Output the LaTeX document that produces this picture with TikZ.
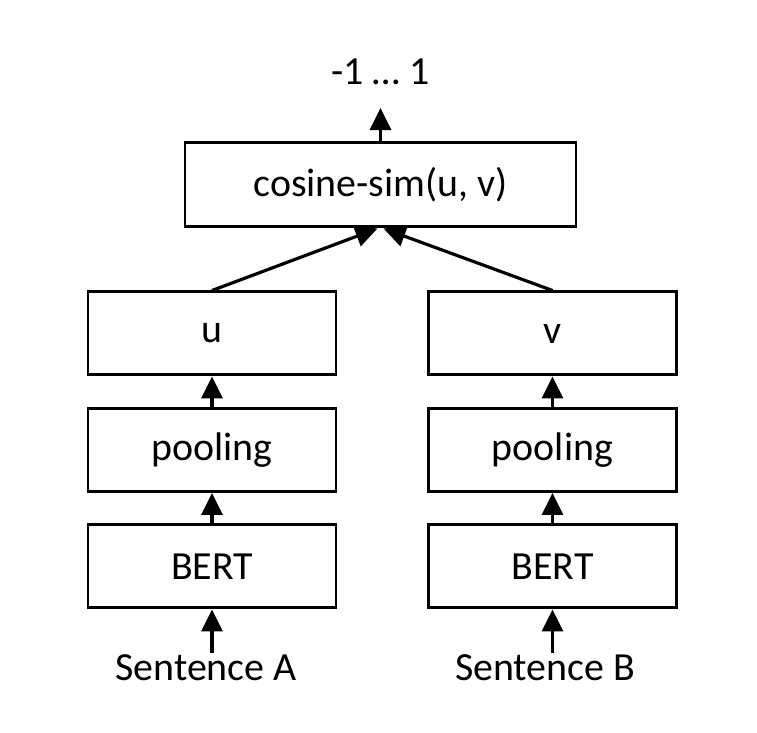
\documentclass[tikz,border=0pt]{standalone}
\usepackage{fontspec}
\setmainfont{Carlito}
\usetikzlibrary{arrows.meta,positioning}

\begin{document}
\begin{tikzpicture}[
    node distance=6.1mm and 6.1mm,
    box/.style={draw, line width=1.7pt, align=center, minimum height=16.6mm, minimum width=49.6mm, inner sep=0pt, font=\fontsize{22.7}{27}\selectfont},
    txt/.style={inner sep=1pt, font=\fontsize{22.7}{27}\selectfont},
    arrow/.style={-{Triangle[length=4.4mm, width=4.2mm]}, line width=1.8pt}
  ]
    \useasboundingbox (0,0) rectangle (15.14,14.66);
    \node[box, minimum width=78.2mm, minimum height=16.8mm] (cs) at (7.61,10.96) {cosine-sim(u, v)};
    \node[txt] (out) at (7.61,13.22) {-1 … 1};
    \node[box] (u) at (4.24,7.99) {u};
    \node[box, below=of u] (pa) {pooling};
    \node[box, below=of pa] (ba) {BERT};
    \node[box] (v) at (11.05,7.99) {v};
    \node[box, below=of v] (pb) {pooling};
    \node[box, below=of pb] (bb) {BERT};
    \node[txt] (sa) at (4.12,1.30) {Sentence A};
    \node[txt] (sb) at (10.90,1.30) {Sentence B};
    \draw[arrow] (sa.north -| ba) -- (ba);
    \draw[arrow] (ba) -- (pa);
    \draw[arrow] (pa) -- (u);
    \draw[arrow] (sb.north -| bb) -- (bb);
    \draw[arrow] (bb) -- (pb);
    \draw[arrow] (pb) -- (v);
    \draw[arrow] (u.north) -- ([xshift=-0.06cm]cs.south);
    \draw[arrow] (v.north) -- ([xshift=0.06cm]cs.south);
    \draw[arrow, shorten >=4.2mm] (cs) -- (out);
  \end{tikzpicture}
\end{document}
